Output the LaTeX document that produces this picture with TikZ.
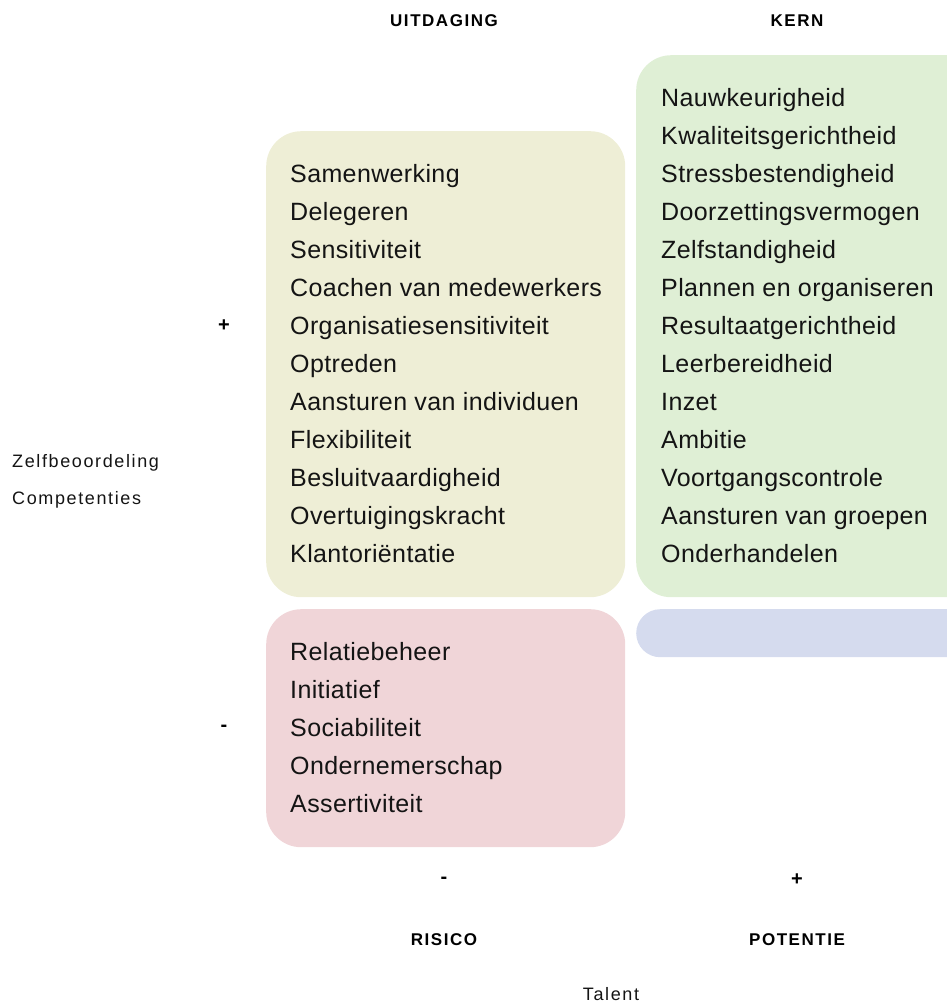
\documentclass[tikz,border=0pt]{standalone}
\usepackage{fontspec}
\setmainfont{Liberation Sans}
\definecolor{cyel}{RGB}{238,238,214}
\definecolor{cgrn}{RGB}{223,239,213}
\definecolor{cpnk}{RGB}{240,213,216}
\definecolor{cblu}{RGB}{213,219,238}
\definecolor{ctxt}{RGB}{20,20,20}
\tikzset{
  quad/.style={rectangle, draw=none, rounded corners=35pt, anchor=north west, inner sep=0pt},
  item/.style={anchor=base west, inner sep=0pt, text=ctxt, font=\fontsize{25}{30}\selectfont\addfontfeature{LetterSpace=1.5}},
  small/.style={inner sep=0pt, text=ctxt, font=\fontsize{18}{22}\selectfont\addfontfeature{LetterSpace=9}},
  head/.style={inner sep=0pt, anchor=base, text=black, font=\fontsize{17}{20}\selectfont\bfseries\addfontfeature{LetterSpace=9}},
  sign/.style={inner sep=0pt, text=black, font=\fontsize{20}{22}\selectfont\bfseries}
}
\begin{document}
\begin{tikzpicture}[x=1pt,y=-1pt]
\useasboundingbox (0,0) rectangle (947,1007);
\clip (0,0) rectangle (947,1007);
% quadrant boxes
\node[quad, fill=cyel, minimum width=359pt, minimum height=466pt] (uitbox) at (266,131) {};
\node[quad, fill=cgrn, minimum width=345pt, minimum height=542pt] (kernbox) at (636,55) {};
\node[quad, fill=cpnk, minimum width=359pt, minimum height=238pt] (risbox) at (266,609) {};
\node[quad, fill=cblu, rounded corners=24pt, minimum width=345pt, minimum height=48pt] (potbox) at (636,609) {};
% items
\foreach \t [count=\i] in {Samenwerking, Delegeren, Sensitiviteit, Coachen van medewerkers, Organisatiesensitiviteit, Optreden, Aansturen van individuen, Flexibiliteit, Besluitvaardigheid, Overtuigingskracht, Klantoriëntatie}
  \node[item] (u\i) at (290, {182+38*(\i-1)}) {\t};
\foreach \t [count=\i] in {Nauwkeurigheid, Kwaliteitsgerichtheid, Stressbestendigheid, Doorzettingsvermogen, Zelfstandigheid, Plannen en organiseren, Resultaatgerichtheid, Leerbereidheid, Inzet, Ambitie, Voortgangscontrole, Aansturen van groepen, Onderhandelen}
  \node[item] (k\i) at (661, {106+38*(\i-1)}) {\t};
\foreach \t [count=\i] in {Relatiebeheer, Initiatief, Sociabiliteit, Ondernemerschap, Assertiviteit}
  \node[item] (r\i) at (290, {660+38*(\i-1)}) {\t};
% headers
\node[head] (huit) at (444,26) {UITDAGING};
\node[head] (hkern) at (797,26) {KERN};
\node[head] (hris) at (444,945) {RISICO};
\node[head] (hpot) at (797,945) {POTENTIE};
% signs
\node[sign] (splus) at (224,326) {+};
\node[sign] (smin) at (224,728) {-};
\node[sign] (xmin) at (444,880) {-};
\node[sign] (xplus) at (797,880) {+};
% axis labels
\node[small, anchor=base west] (zelf) at (12,467) {Zelfbeoordeling};
\node[small, anchor=base west] (comp) at (12,504) {Competenties};
\node[small, anchor=base] (talent) at (611,1000) {Talent};
\end{tikzpicture}
\end{document}
